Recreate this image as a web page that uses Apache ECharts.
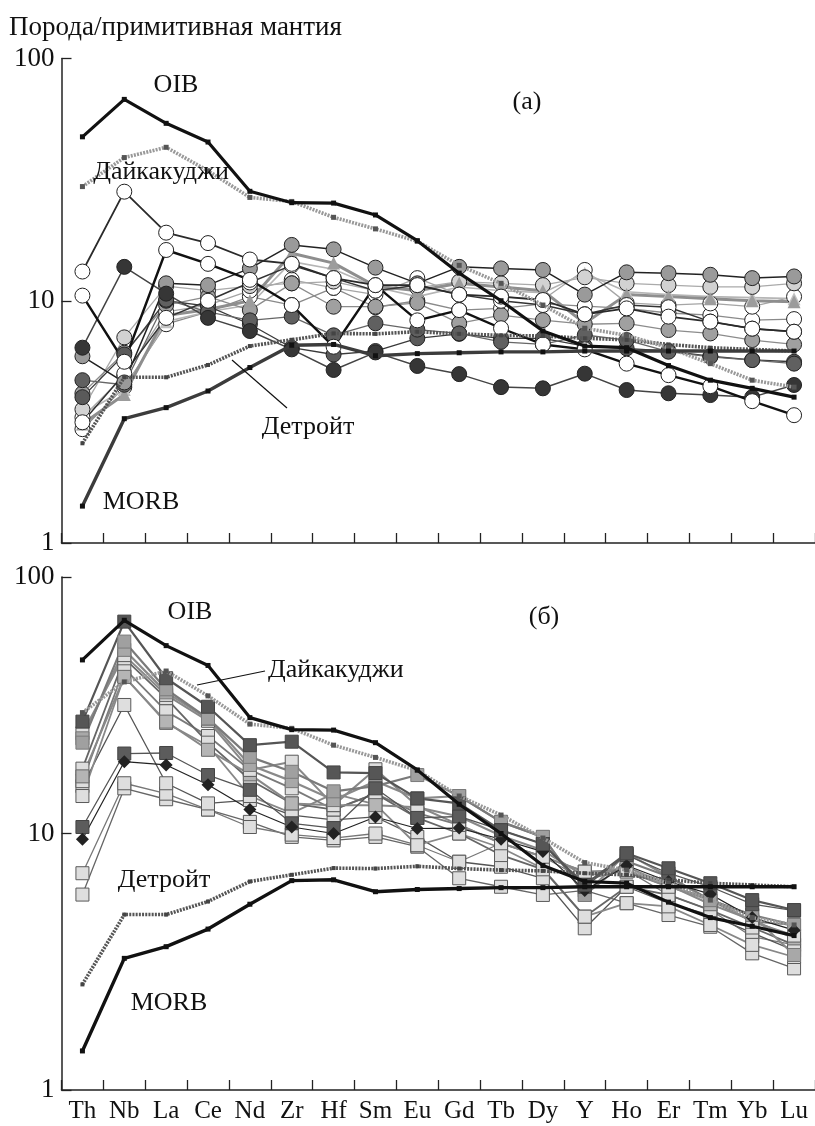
<!DOCTYPE html>
<html>
<head>
<meta charset="utf-8">
<script src="https://cdn.jsdelivr.net/npm/echarts@6/dist/echarts.min.js"></script>
<style>
html,body{margin:0;padding:0;background:#fff;}
#chart{width:815px;height:1126px;}
</style>
</head>
<body>
<div id="chart"></div>
<script>
// Element order along the x axis (spidergram, primitive-mantle normalised)
const categories = ['Th','Nb','La','Ce','Nd','Zr','Hf','Sm','Eu','Gd','Tb','Dy','Y','Ho','Er','Tm','Yb','Lu'];
const yTicks = [1, 10, 100];

// Reference compositions (shown on both panels)
const oib         = [47.5, 67.8, 54.0, 45.2, 28.3, 25.4, 25.3, 22.6, 17.7, 13.0, 10.0, 7.5, 6.5, 6.4, 5.4, 4.7, 4.35, 4.0];
const daikakudzhi = [29.6, 39.0, 43.0, 34.4, 26.7, 25.7, 22.1, 19.8, 17.6, 14.0, 11.8, 9.6, 7.7, 7.2, 6.4, 5.5, 4.7, 4.4];
const detroit     = [2.58, 4.83, 4.83, 5.43, 6.5, 6.9, 7.33, 7.3, 7.45, 7.3, 7.2, 7.15, 7.0, 6.9, 6.6, 6.4, 6.3, 6.2];
const morb        = [1.42, 3.26, 3.62, 4.24, 5.3, 6.55, 6.6, 5.93, 6.05, 6.1, 6.15, 6.15, 6.2, 6.2, 6.2, 6.2, 6.2, 6.2];

// Panel (a) samples
const a1  = [13.2, 28.2, 19.1, 17.3, 14.8, 14.2, 12.4, 11.6, 11.6, 10.6, 10.4, 10.07, 8.79, 9.3, 8.6, 8.2, 7.67, 7.45];
const a2  = [10.5, 5.6, 16.2, 14.2, 12.2, 9.6, 6.46, 11.6, 8.3, 9.15, 7.7, 6.6, 6.3, 5.5, 4.93, 4.44, 3.85, 3.37];
const a3  = [5.9, 4.6, 11.8, 11.6, 13.6, 17.0, 16.3, 13.7, 11.8, 13.8, 13.6, 13.4, 10.6, 13.1, 13.0, 12.8, 12.4, 12.6];
const a4  = [6.4, 13.8, 10.7, 8.5, 7.5, 6.3, 5.18, 6.12, 5.38, 4.98, 4.4, 4.35, 5.0, 4.28, 4.15, 4.08, 4.0, 4.49];
const a5  = [4.7, 4.5, 10.1, 9.0, 8.3, 8.6, 7.2, 8.07, 7.6, 7.33, 6.77, 6.6, 7.22, 6.88, 6.16, 5.87, 5.69, 5.5];
const a6  = [3.56, 7.06, 11.5, 11.0, 11.5, 11.8, 12.0, 11.0, 11.3, 12.0, 11.8, 11.6, 12.5, 11.8, 11.6, 11.4, 11.4, 11.8];
const a7  = [4.15, 6.1, 9.6, 10.4, 9.15, 11.8, 9.45, 9.45, 9.8, 8.07, 8.73, 8.32, 8.0, 8.07, 7.57, 7.33, 6.88, 6.6];
const a8  = [3.3, 4.9, 9.0, 9.6, 11.0, 12.2, 11.3, 10.6, 12.4, 10.6, 10.4, 10.1, 13.4, 9.8, 9.6, 9.75, 9.45, 10.4];
const a9  = [2.95, 4.4, 8.0, 9.0, 10.4, 9.6, 11.3, 9.4, 10.0, 9.15, 9.3, 9.7, 9.5, 9.3, 8.9, 8.73, 8.32, 8.4];
const a10 = [3.1, 4.1, 8.7, 9.2, 10.0, 15.7, 14.3, 11.5, 11.0, 11.8, 11.4, 11.0, 8.07, 10.6, 10.4, 10.2, 10.0, 9.9];
const a11 = [3.15, 5.0, 8.5, 10.0, 11.9, 14.0, 12.4, 11.0, 11.6, 10.6, 10.0, 9.6, 8.8, 9.6, 9.4, 8.2, 7.67, 7.45];
const a12 = [4.0, 6.0, 10.0, 9.5, 8.0, 6.4, 6.0, 6.2, 7.0, 7.3, 7.0, 7.0, 6.5, 6.36, 6.2, 5.9, 5.7, 5.6];
const a13 = [3.4, 4.3, 8.2, 9.0, 9.6, 14.5, 13.5, 11.4, 10.4, 11.4, 11.0, 10.8, 13.0, 10.9, 10.6, 10.4, 10.3, 10.2];

// Panel (б) samples
const b1  = [27.3, 67.0, 40.3, 31.2, 22.1, 22.8, 17.3, 17.2, 13.7, 13.1, 10.3, 9.1, 6.3, 8.37, 7.32, 6.4, 5.5, 5.03];
const b2  = [22.6, 56.0, 36.5, 28.1, 19.9, 17.4, 14.6, 15.3, 16.9, 14.0, 11.1, 9.7, 5.76, 7.8, 6.8, 5.5, 4.81, 4.4];
const b3  = [24.6, 49.6, 34.7, 27.5, 17.7, 19.05, 12.9, 17.8, 12.8, 10.8, 9.16, 8.12, 7.1, 7.2, 6.2, 5.6, 4.53, 4.0];
const b4  = [17.9, 48.2, 33.7, 22.6, 16.2, 13.1, 12.4, 14.3, 11.5, 10.0, 8.24, 7.25, 4.74, 6.2, 5.76, 5.03, 4.3, 3.68];
const b5  = [16.7, 40.8, 27.3, 21.2, 17.0, 13.1, 12.9, 12.9, 12.65, 11.65, 9.8, 8.6, 6.8, 7.4, 6.3, 5.3, 4.6, 3.9];
const b6  = [15.3, 31.7, 15.7, 13.1, 13.5, 11.8, 11.3, 11.6, 9.7, 7.76, 7.42, 6.69, 4.27, 6.2, 5.35, 4.81, 4.1, 3.5];
const b7  = [10.6, 20.5, 20.6, 16.9, 14.8, 10.96, 10.5, 15.0, 11.5, 11.65, 10.3, 9.1, 6.2, 8.24, 7.0, 6.2, 5.3, 5.0];
const b8  = [9.5, 19.05, 18.5, 15.5, 12.4, 10.6, 10.0, 11.6, 10.46, 10.5, 9.5, 8.5, 6.0, 7.5, 6.5, 5.8, 4.7, 4.2];
const b9  = [7.0, 15.7, 14.3, 12.4, 10.6, 9.9, 9.6, 10.0, 9.0, 7.76, 9.16, 8.12, 6.6, 7.2, 5.76, 5.03, 3.96, 3.68];
const b10 = [5.78, 15.0, 13.6, 12.4, 11.1, 9.7, 9.4, 9.7, 8.88, 6.69, 6.2, 5.76, 6.0, 5.35, 4.81, 4.33, 3.41, 2.98];
const b11 = [23.5, 52.0, 35.5, 28.0, 18.5, 16.0, 13.5, 16.0, 13.7, 14.0, 11.1, 9.7, 5.76, 8.37, 6.8, 5.5, 4.81, 3.36];
const b12 = [16.0, 44.0, 30.0, 24.0, 17.7, 15.0, 12.4, 14.3, 12.0, 10.8, 9.16, 8.12, 7.1, 7.1, 6.2, 5.5, 4.53, 4.4];
const b13 = [14.0, 41.0, 27.0, 22.0, 14.0, 12.0, 14.3, 13.0, 9.0, 10.0, 8.8, 7.3, 4.74, 5.35, 5.2, 4.4, 3.68, 3.3];

const FONT = '"Liberation Serif", "Times New Roman", serif';

function mk(grid, data, s) {
  return {
    type: 'line', xAxisIndex: grid, yAxisIndex: grid, data: data,
    symbol: s.symbol || 'circle', symbolSize: s.size || 15, showSymbol: true,
    lineStyle: { color: s.line, width: s.width || 1.3, type: s.type || 'solid' },
    itemStyle: { color: s.fill, borderColor: s.border || '#222', borderWidth: s.bw == null ? 1 : s.bw },
    z: s.z || 2, silent: true, animation: false
  };
}

function references(grid) {
  return [
    mk(grid, detroit, { symbol: 'rect', size: 4, fill: '#444', bw: 0, line: '#555', width: 3.6, type: [2, 1.2], z: 5 }),
    mk(grid, daikakudzhi, { symbol: 'rect', size: 5, fill: '#555', bw: 0, line: '#999', width: 3.6, type: [2, 1.2], z: 5 }),
    mk(grid, morb, { symbol: 'rect', size: 5, fill: '#111', bw: 0, line: grid === 0 ? '#3c3c3c' : '#111', width: 3.4, z: 6 }),
    mk(grid, oib, { symbol: 'rect', size: 5, fill: '#111', bw: 0, line: '#111', width: 3.2, z: 6 })
  ];
}

const seriesA = [
  mk(0, a9,  { fill: '#fff', line: '#8a8a8a' }),
  mk(0, a8,  { fill: '#fff', line: '#a5a5a5' }),
  mk(0, a13, { symbol: 'triangle', size: 13, fill: '#c2c2c2', bw: 0, line: '#b5b5b5', width: 1.6 }),
  mk(0, a6,  { fill: '#d2d2d2', line: '#aaaaaa' }),
  mk(0, a7,  { fill: '#a0a0a0', line: '#8c8c8c' }),
  mk(0, a10, { symbol: 'triangle', size: 13, fill: '#9c9c9c', bw: 0, line: '#8e8e8e', width: 3 }),
  mk(0, a12, { fill: '#5a5a5a', line: '#3a3a3a' }),
  mk(0, a5,  { fill: '#606060', line: '#666' }),
  mk(0, a11, { fill: '#fff', line: '#333', width: 1.5 }),
  mk(0, a3,  { fill: '#9a9a9a', line: '#222', width: 1.5 }),
  mk(0, a4,  { fill: '#363636', line: '#444', width: 1.5 }),
  mk(0, a2,  { fill: '#fff', line: '#111', width: 2.4 }),
  mk(0, a1,  { fill: '#fff', line: '#2a2a2a', width: 1.8 })
].concat(references(0));

const sqLight = { symbol: 'rect', size: 13, fill: '#dedede', border: '#5a5a5a' };
const seriesB = [
  mk(1, b10, Object.assign({}, sqLight, { line: '#666' })),
  mk(1, b9,  Object.assign({}, sqLight, { line: '#777' })),
  mk(1, b6,  Object.assign({}, sqLight, { line: '#555' })),
  mk(1, b13, Object.assign({}, sqLight, { line: '#888', width: 1.8 })),
  mk(1, b12, Object.assign({}, sqLight, { line: '#7a7a7a', width: 1.8 })),
  mk(1, b4,  Object.assign({}, sqLight, { line: '#666', width: 1.8 })),
  mk(1, b5,  { symbol: 'rect', size: 13, fill: '#b5b5b5', border: '#666', line: '#888', width: 2 }),
  mk(1, b3,  Object.assign({}, sqLight, { line: '#888', width: 2 })),
  mk(1, b11, { symbol: 'rect', size: 13, fill: '#a8a8a8', border: '#777', line: '#8a8a8a', width: 2.2 }),
  mk(1, b2,  { symbol: 'rect', size: 13, fill: '#a0a0a0', border: '#7a7a7a', line: '#7a7a7a', width: 2.2 }),
  mk(1, b7,  { symbol: 'rect', size: 13, fill: '#5c5c5c', border: '#444', line: '#555', width: 1.3 }),
  mk(1, b8,  { symbol: 'diamond', size: 13, fill: '#222', bw: 0, line: '#222', width: 1.2 }),
  mk(1, b1,  { symbol: 'rect', size: 13, fill: '#565656', border: '#444', line: '#555', width: 2.2 })
].concat(references(1));

function xAxis(grid, showLabels) {
  return {
    type: 'category', gridIndex: grid, data: categories, boundaryGap: true,
    axisLine: { lineStyle: { color: '#222', width: 1.5 } },
    axisTick: { show: true, inside: true, length: 10, interval: 0, lineStyle: { color: '#222', width: 1.3 } },
    axisLabel: { show: showLabels, interval: 0, margin: 9, color: '#111', fontSize: 25, fontFamily: FONT },
    splitLine: { show: false }
  };
}
function yAxis(grid) {
  return {
    type: 'log', logBase: 10, gridIndex: grid, min: yTicks[0], max: yTicks[yTicks.length - 1],
    axisLine: { show: true, lineStyle: { color: '#222', width: 1.5 } },
    axisTick: { show: true, inside: true, length: 10, lineStyle: { color: '#222', width: 1.3 } },
    minorTick: { show: false },
    axisLabel: { margin: 7, color: '#111', fontSize: 27, fontFamily: FONT,
      formatter: v => String(Math.round(v)) },
    splitLine: { show: false }
  };
}

function txt(x, y, text, align) {
  return { type: 'text', x: x, y: y, z: 20, silent: true,
    style: { text: text, font: '26px ' + FONT, fill: '#111',
      textAlign: align || 'center', align: align || 'center',
      textVerticalAlign: 'middle', verticalAlign: 'middle' } };
}
function leader(x1, y1, x2, y2) {
  return { type: 'line', z: 20, silent: true, shape: { x1: x1, y1: y1, x2: x2, y2: y2 },
    style: { stroke: '#111', lineWidth: 1.2 } };
}

const chart = echarts.init(document.getElementById('chart'), null, { renderer: 'canvas' });
chart.setOption({
  backgroundColor: '#fff',
  animation: false,
  title: { text: 'Порода/примитивная мантия', left: 4, top: 9,
    textStyle: { fontFamily: FONT, fontSize: 27, fontWeight: 'normal', color: '#111' } },
  grid: [
    { left: 61.5, right: 0, top: 58.5, height: 484.5 },
    { left: 61.5, right: 0, top: 577, height: 513 }
  ],
  xAxis: [xAxis(0, false), xAxis(1, true)],
  yAxis: [yAxis(0), yAxis(1)],
  series: seriesA.concat(seriesB),
  graphic: [
    txt(176, 85, 'OIB'),
    txt(527, 102, '(а)'),
    txt(161, 172, 'Дайкакуджи'),
    txt(308, 427, 'Детройт'),
    leader(232, 360, 287, 408),
    txt(141, 502, 'MORB'),
    txt(190, 612, 'OIB'),
    txt(544, 617, '(б)'),
    txt(268, 670, 'Дайкакуджи', 'left'),
    leader(197, 685, 265, 671),
    txt(164, 880, 'Детройт'),
    txt(169, 1003, 'MORB')
  ]
});
</script>
</body>
</html>
